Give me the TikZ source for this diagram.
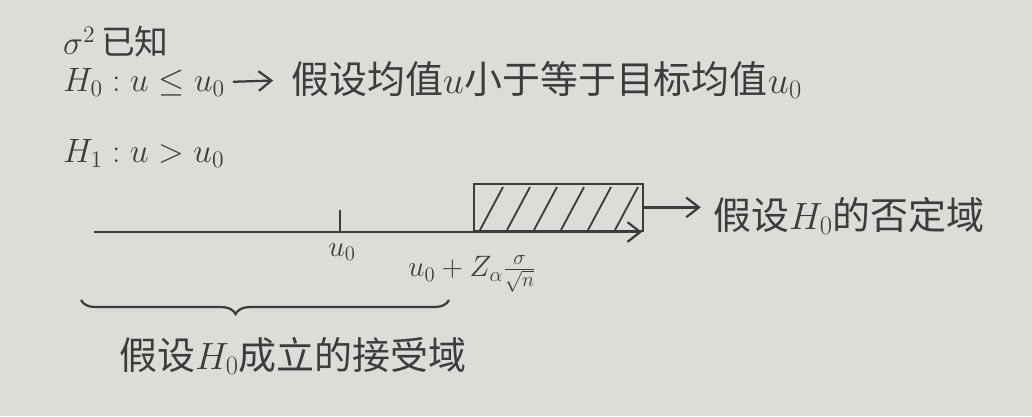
\RequirePackage{fix-cm}
\documentclass[tikz,border=0pt]{standalone}
\usepackage{fontspec}
\newfontfamily\cjk{Noto Sans CJK SC}
\usetikzlibrary{decorations.pathreplacing,arrows.meta}
\definecolor{paper}{HTML}{DCDCD9}
\definecolor{ink}{HTML}{3C3C3C}
\begin{document}
\begin{tikzpicture}[x=0.025cm,y=-0.025cm, draw=ink, line width=1.6pt,
  txt/.style={font=\cjk\fontsize{27}{30}\selectfont, inner sep=0pt, text=ink},
  mid/.style={font=\cjk\fontsize{24}{28}\selectfont, inner sep=0pt, text=ink},
  sml/.style={font=\cjk\fontsize{21}{24}\selectfont, inner sep=0pt, text=ink},
  arr/.style={-{Straight Barb[length=9pt,width=14pt]}},
  hatch/.style={line width=1.3pt}]
\fill[paper] (0,0) rectangle (1032,416);
\useasboundingbox (0,0) rectangle (1032,416);

\node[mid, anchor=west] (sig) at (62,42) {$\sigma^2$\,已知};
\node[mid, anchor=west] (h0) at (62,82) {$H_0: u\le u_0$};
\node[txt, anchor=west] (h0d) at (290,80) {假设均值$u$小于等于目标均值$u_0$};
\draw[arr, shorten <=5pt, shorten >=12pt] (h0.east) -- (h0d.west);
\node[mid, anchor=west] (h1) at (62,153) {$H_1: u>u_0$};

\coordinate (ls) at (94,232);
\coordinate (le) at (642,232);
\draw[arr] (ls) -- (le);
\coordinate (t0) at (340,232);
\coordinate (t0top) at (340,210);
\draw (t0) -- (t0top);
\node[sml] (u0) at (342,252) {$u_0$};

\node[draw, inner sep=0pt, minimum width=4.225cm, minimum height=1.175cm, anchor=south west] (rej) at (473,232) {};
\foreach \k in {0,...,5}{
  \draw[hatch] ({480+27*\k},230) -- ({503+27*\k},187);
}
\node[sml] (crit) at (472,274) {$u_0+Z_\alpha\frac{\sigma}{\sqrt{n}}$};

\node[txt, anchor=west] (rejl) at (712,216) {假设$H_0$的否定域};
\draw[arr, shorten >=8pt] (rej.east) -- (rej.east -| rejl.west);

\coordinate (bl) at (81,300);
\coordinate (br) at (449,300);
\draw[decorate, decoration={brace, mirror, amplitude=10pt, aspect=0.42}] (bl) -- (br);
\node[txt, anchor=west] (acc) at (118,356) {假设$H_0$成立的接受域};
\end{tikzpicture}
\end{document}
